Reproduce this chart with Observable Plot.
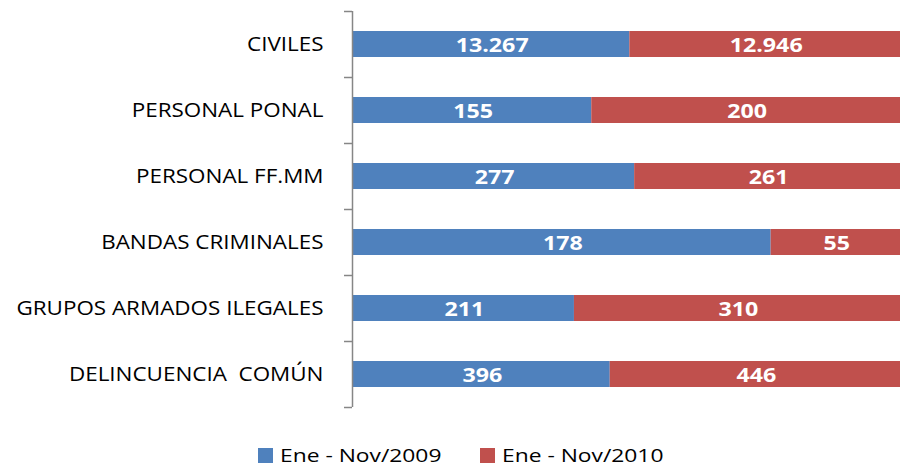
<!DOCTYPE html>
<html>
<head>
<meta charset="utf-8">
<script src="https://cdn.jsdelivr.net/npm/d3@7"></script>
<script src="https://cdn.jsdelivr.net/npm/@observablehq/plot@0.6"></script>
<style>
  html, body { margin: 0; padding: 0; background: #fff; }
  #chart svg { display: block; }
  .legend { position: relative; height: 37px; font-family: 'Open Sans', sans-serif; font-size: 19px; color: #000; }
  .legend .item { display: flex; align-items: center; position: absolute; top: 12px; }
  .legend .sw { width: 15px; height: 15px; margin-right: 7px; }
  .legend .lbl { display: inline-block; transform: scaleX(1.2); transform-origin: left center; }
</style>
</head>
<body>
<div id="chart"></div>
<div class="legend" id="legend"></div>
<script>
const categories = ["CIVILES", "PERSONAL PONAL", "PERSONAL FF.MM", "BANDAS CRIMINALES", "GRUPOS ARMADOS ILEGALES", "DELINCUENCIA  COMÚN"];
const seriesNames = ["Ene - Nov/2009", "Ene - Nov/2010"];
const values2009 = [13267, 155, 277, 178, 211, 396];
const values2010 = [12946, 200, 261, 55, 310, 446];
const colors = ["#4F81BD", "#C0504D"];

const data = [];
categories.forEach((c, i) => {
  data.push({cat: c, series: seriesNames[0], value: values2009[i]});
  data.push({cat: c, series: seriesNames[1], value: values2010[i]});
});

const fmt = d3.formatLocale({decimal: ",", thousands: ".", grouping: [3], currency: ["", ""]}).format(",d");

const W = 900, H = 430, mT = 11, mB = 23, mL = 352, mR = 0;
const step = (H - mT - mB) / categories.length;

const plot = Plot.plot({
  width: W, height: H,
  marginTop: mT, marginBottom: mB, marginLeft: mL, marginRight: mR,
  style: {fontFamily: "'Open Sans', sans-serif", background: "#fff"},
  x: {axis: null, domain: [0, 1]},
  y: {domain: categories, paddingInner: 0.6, paddingOuter: 0.3, label: null},
  color: {domain: seriesNames, range: colors},
  marks: [
    Plot.barX(data, Plot.stackX({x: "value", y: "cat", fill: "series", z: "series", offset: "normalize", order: null})),
    Plot.text(data, Plot.stackX({x: "value", y: "cat", z: "series", offset: "normalize", order: null,
      text: d => fmt(d.value), fill: "white", fontWeight: "bold", fontSize: 20, fontFamily: "'Open Sans', sans-serif", dy: 1, dx: 1})),
    Plot.ruleX([0], {stroke: "#868686", strokeWidth: 1.5}),
    Plot.ruleY(categories, {y: d => d, x1: 0, x2: 0, insetLeft: -8, dy: -step / 2, stroke: "#868686", strokeWidth: 1.5}),
    Plot.ruleY([categories[categories.length - 1]], {y: d => d, x1: 0, x2: 0, insetLeft: -8, dy: step / 2, stroke: "#868686", strokeWidth: 1.5}),
    Plot.axisY({tickSize: 0, tickPadding: 29, fontSize: 19.5, fill: "#000", label: null})
  ]
});
document.getElementById("chart").appendChild(plot);

// widen glyphs to match the reference's stretched rendering
function stretch(selector, factor) {
  plot.querySelectorAll(selector).forEach(t => {
    const len = t.getComputedTextLength();
    t.setAttribute("textLength", (len * factor).toFixed(1));
    t.setAttribute("lengthAdjust", "spacingAndGlyphs");
  });
}
stretch('g[aria-label="y-axis tick label"] text', 1.15);
stretch('g[aria-label="text"] text', 1.16);

const legend = document.getElementById("legend");
const lefts = [258, 480];
seriesNames.forEach((s, i) => {
  const item = document.createElement("div");
  item.className = "item";
  item.style.left = lefts[i] + "px";
  item.innerHTML = `<span class="sw" style="background:${colors[i]}"></span><span class="lbl">${s}</span>`;
  legend.appendChild(item);
});
</script>
</body>
</html>
